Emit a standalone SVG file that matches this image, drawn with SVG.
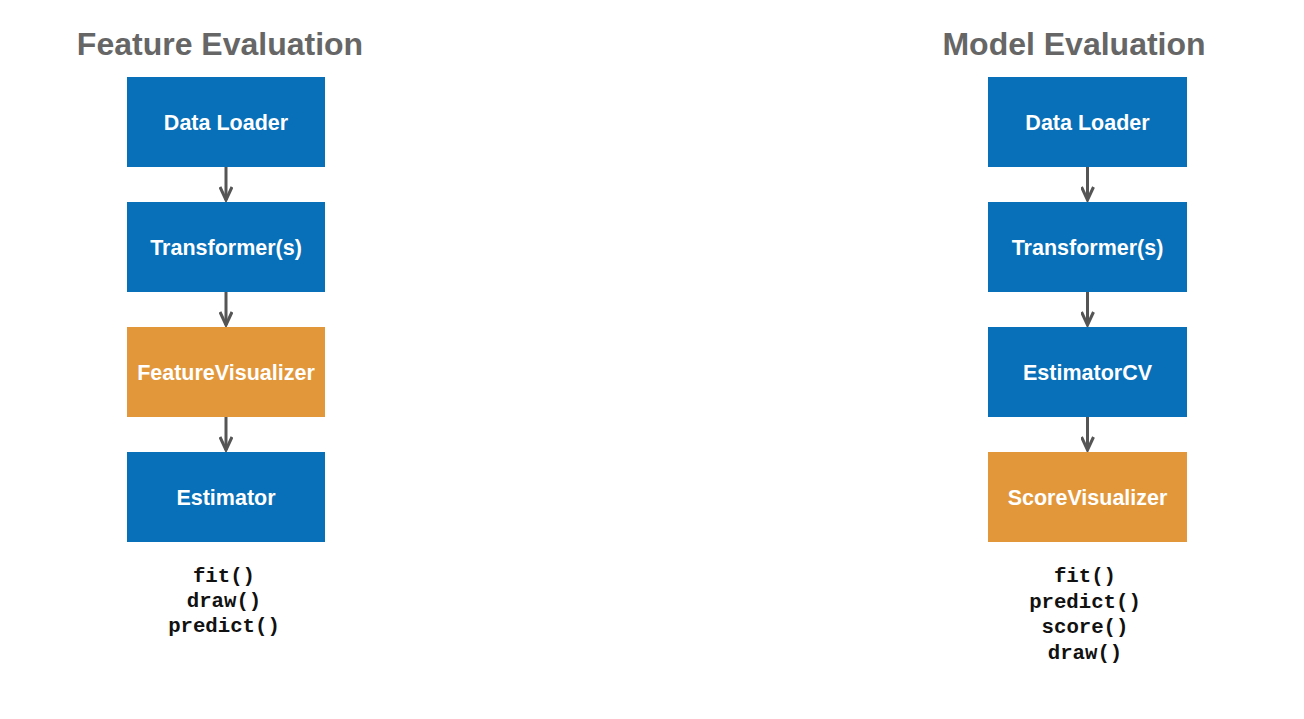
<svg xmlns="http://www.w3.org/2000/svg" width="1304" height="719" viewBox="0 0 1304 719">
<style>
.title{font-family:"Liberation Sans",Arial,sans-serif;font-weight:bold;font-size:32px;fill:#666666;text-anchor:middle}
.blue{fill:#0870B8}
.orange{fill:#E3973B}
.lbl{font-family:"Liberation Sans",Arial,sans-serif;font-weight:bold;font-size:21.5px;fill:#ffffff;text-anchor:middle}
.code{font-family:"Liberation Mono","Courier New",monospace;font-weight:bold;font-size:20.7px;fill:#111111;text-anchor:middle}
.conn{stroke:#555555;stroke-width:3;fill:none;marker-end:url(#ah)}
</style>
<defs>
<marker id="ah" viewBox="0 0 16 14" refX="14" refY="7" markerWidth="16" markerHeight="14" markerUnits="userSpaceOnUse" orient="auto">
<path d="M1,1 L14,7 L1,13" fill="none" stroke="#555555" stroke-width="3"/>
</marker>
</defs>
<rect width="1304" height="719" fill="#ffffff"/>
<text class="title" x="220" y="55">Feature Evaluation</text>
<text class="title" x="1074" y="55">Model Evaluation</text>
<g id="connectors">
<line class="conn" x1="226" y1="167" x2="226" y2="200"/>
<line class="conn" x1="226" y1="292" x2="226" y2="325"/>
<line class="conn" x1="226" y1="417" x2="226" y2="450"/>
<line class="conn" x1="1087.5" y1="167" x2="1087.5" y2="200"/>
<line class="conn" x1="1087.5" y1="292" x2="1087.5" y2="325"/>
<line class="conn" x1="1087.5" y1="417" x2="1087.5" y2="450"/>
</g>
<g id="fe-dataloader"><rect class="blue" x="127" y="77" width="198" height="90"/><text class="lbl" x="226" y="130">Data Loader</text></g>
<g id="fe-transformers"><rect class="blue" x="127" y="202" width="198" height="90"/><text class="lbl" x="226" y="255">Transformer(s)</text></g>
<g id="fe-featurevisualizer"><rect class="orange" x="127" y="327" width="198" height="90"/><text class="lbl" x="226" y="380">FeatureVisualizer</text></g>
<g id="fe-estimator"><rect class="blue" x="127" y="452" width="198" height="90"/><text class="lbl" x="226" y="505">Estimator</text></g>
<g id="fe-methods">
<text class="code" x="224" y="582">fit()</text>
<text class="code" x="224" y="607">draw()</text>
<text class="code" x="224" y="632">predict()</text>
</g>
<g id="me-dataloader"><rect class="blue" x="988" y="77" width="199" height="90"/><text class="lbl" x="1087.5" y="130">Data Loader</text></g>
<g id="me-transformers"><rect class="blue" x="988" y="202" width="199" height="90"/><text class="lbl" x="1087.5" y="255">Transformer(s)</text></g>
<g id="me-estimatorcv"><rect class="blue" x="988" y="327" width="199" height="90"/><text class="lbl" x="1087.5" y="380">EstimatorCV</text></g>
<g id="me-scorevisualizer"><rect class="orange" x="988" y="452" width="199" height="90"/><text class="lbl" x="1087.5" y="505">ScoreVisualizer</text></g>
<g id="me-methods">
<text class="code" x="1085" y="582">fit()</text>
<text class="code" x="1085" y="608">predict()</text>
<text class="code" x="1085" y="633">score()</text>
<text class="code" x="1085" y="659">draw()</text>
</g>
</svg>
